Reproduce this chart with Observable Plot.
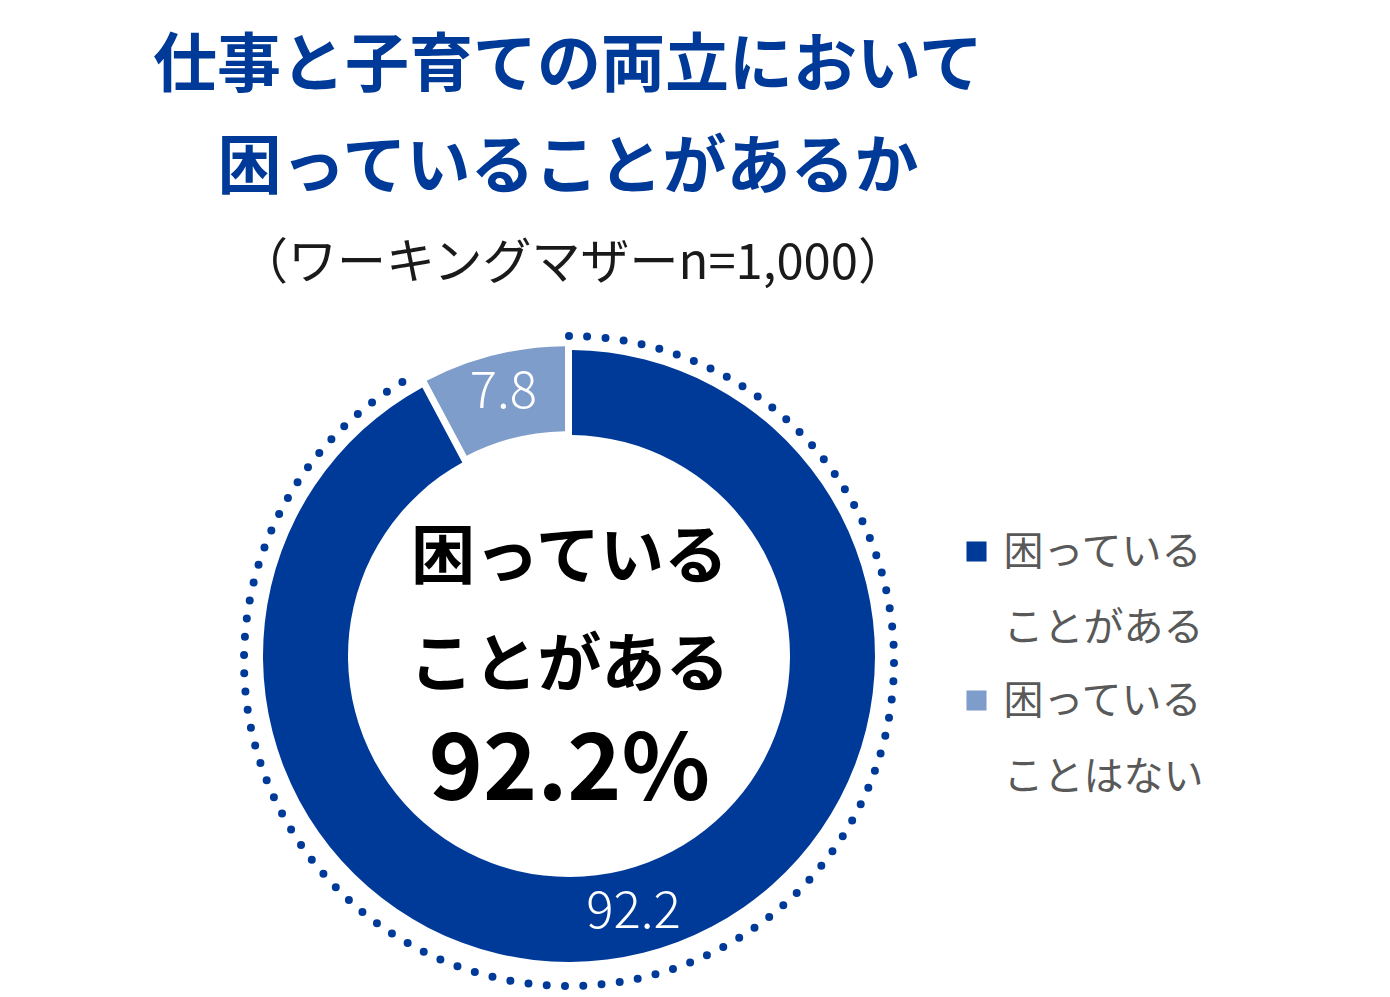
<!DOCTYPE html>
<html>
<head>
<meta charset="utf-8">
<script src="https://cdn.jsdelivr.net/npm/d3@7"></script>
<script src="https://cdn.jsdelivr.net/npm/@observablehq/plot@0.6"></script>
<style>
  html, body { margin: 0; padding: 0; background: #fff; }
  body { width: 1390px; height: 997px; overflow: hidden; position: relative;
         font-family: "Noto Sans CJK JP", "Noto Sans", sans-serif; }
  #title { position: absolute; left: 0; top: 7px; width: 1136px; text-align: center;
           font-size: 64px; font-weight: 700; color: #003A99; line-height: 102px; }
  #subtitle { position: absolute; left: 0; top: 228px; width: 1146px; text-align: center;
              font-size: 49px; line-height: 60px; color: #1a1a1a; }
  #chart { position: absolute; left: 0; top: 288px; }
</style>
</head>
<body>
<div id="title">仕事と子育ての両立において<br>困っていることがあるか</div>
<div id="subtitle">（ワーキングマザーn=1,000）</div>
<div id="chart"></div>
<script>
// ---- data ----
const categories = ["困っていることがある", "困っていることはない"];
const values = [92.2, 7.8];
const legendLabels = ["困っている\nことがある", "困っている\nことはない"];
const centerLines = ["困っている", "ことがある", `${values[0]}%`];
const colors = ["#003A99", "#7F9DCB"];

// ---- layout ----
const W = 1390, H = 709;
const CX = 569, CY = 368;          // donut centre
const R_OUT = 306, R_IN = 221;     // ring radii
const PAD = 6;                     // white gap between slices (px)
const EXPLODE = [0, 4];            // slice offset along bisector
const LABEL_PUSH = [0, 9];         // label offset along bisector
const DOT_CY = 373, R_DOT = 325;   // dotted ring
const centerY = [269, 377, 482];
const centerSize = [64, 64, 92];
const LEG_X = 976, LEG_TX = 1003, LEG_Y0 = 263, LEG_STEP = 149;

const table = categories.map((c, i) => ({category: c, value: values[i], color: colors[i], legend: legendLabels[i]}));
const arcs = d3.pie().sort(null).value(d => d.value).startAngle(0).endAngle(2 * Math.PI)(table);
const arcGen = d3.arc().innerRadius(R_IN).outerRadius(R_OUT);
const labelData = arcs.map((a, i) => {
  const [px, py] = arcGen.centroid(a);
  const mid = (a.startAngle + a.endAngle) / 2;
  return {
    text: String(a.data.value),
    x: CX + px + LABEL_PUSH[i] * Math.sin(mid),
    y: CY + py - LABEL_PUSH[i] * Math.cos(mid)
  };
});

function donutMark(index, scales) {
  const {x, y} = scales;
  const cx = x(CX), cy = y(CY);
  const k = x(CX + 1) - x(CX);
  const g = d3.create("svg:g");
  const arc = d3.arc()
    .innerRadius(R_IN * k).outerRadius(R_OUT * k)
    .padAngle(PAD / R_OUT).padRadius(R_OUT * k);
  arcs.forEach((a, i) => {
    const mid = (a.startAngle + a.endAngle) / 2;
    const ox = EXPLODE[i] * k * Math.sin(mid), oy = -EXPLODE[i] * k * Math.cos(mid);
    g.append("path")
      .attr("d", arc(a))
      .attr("fill", a.data.color)
      .attr("transform", `translate(${cx + ox},${cy + oy})`);
  });
  // dotted ring along the main slice
  const main = arcs[0];
  const p = d3.path();
  p.arc(x(CX), y(DOT_CY), R_DOT * k, main.startAngle - Math.PI / 2, main.endAngle - Math.PI / 2);
  g.append("path")
    .attr("d", p.toString())
    .attr("fill", "none")
    .attr("stroke", colors[0])
    .attr("stroke-width", 8)
    .attr("stroke-linecap", "round")
    .attr("stroke-dasharray", "0 18.3");
  return g.node();
}

const chart = Plot.plot({
  width: W,
  height: H,
  margin: 0,
  x: {domain: [0, W], range: [0, W], axis: null},
  y: {domain: [0, H], range: [0, H], axis: null},
  style: {fontFamily: '"Noto Sans CJK JP", "Noto Sans", sans-serif', background: "white", overflow: "visible"},
  marks: [
    donutMark,
    Plot.text(labelData, {x: "x", y: "y", text: "text", fill: "white", fontSize: 51, fontWeight: 300, textAnchor: "middle"}),
    Plot.text(centerLines, {x: () => CX, y: (d, i) => centerY[i], text: d => d,
      fontSize: (d, i) => centerSize[i], fill: "black", fontWeight: 700, textAnchor: "middle"}),
    ...legendLabels.map((lab, i) => Plot.dot([lab], {x: () => LEG_X, y: () => LEG_Y0 + i * LEG_STEP,
      symbol: "square", r: 11.3, fill: colors[i], stroke: "none"})),
    Plot.text(legendLabels, {x: () => LEG_TX, y: (d, i) => LEG_Y0 + i * LEG_STEP + 27, text: d => d,
      textAnchor: "start", fontSize: 40, lineHeight: 1.9, fill: "#595959"})
  ]
});
document.getElementById("chart").appendChild(chart);
</script>
</body>
</html>
